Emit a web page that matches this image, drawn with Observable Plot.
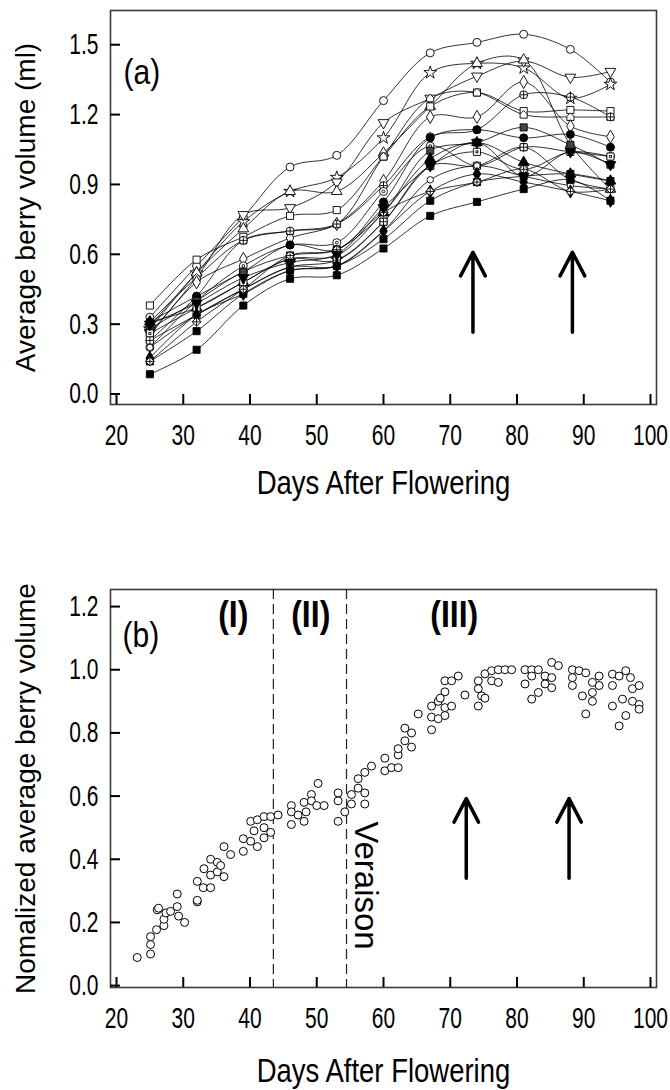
<!DOCTYPE html>
<html><head><meta charset="utf-8">
<script src="https://cdn.jsdelivr.net/npm/d3@7"></script>
<script src="https://cdn.jsdelivr.net/npm/@observablehq/plot@0.6"></script>
<style>
body{margin:0;background:#fff;}
#chart svg{display:block;}
</style></head><body><div id="chart"></div>
<script>
// ---------- Panel (a) data ----------
const days = [25, 32, 39, 46, 53, 60, 67, 74, 81, 88, 94];
const s01 = [0.33, 0.55, 0.76, 0.975, 1.025, 1.26, 1.465, 1.51, 1.545, 1.48, 1.34];
const s02 = [0.28, 0.52, 0.74, 0.87, 0.93, 1.10, 1.38, 1.42, 1.40, 1.27, 1.33];
const s03 = [0.26, 0.50, 0.77, 0.80, 0.91, 1.165, 1.27, 1.365, 1.43, 1.36, 1.385];
const s04 = [0.29, 0.52, 0.71, 0.87, 0.87, 1.035, 1.235, 1.42, 1.435, 1.07, 0.88];
const s05 = [0.38, 0.577, 0.675, 0.765, 0.79, 1.02, 1.235, 1.295, 1.215, 1.22, 1.215];
const s06 = [0.31, 0.50, 0.66, 0.70, 0.73, 1.02, 1.27, 1.295, 1.20, 1.19, 1.19];
const s07 = [0.25, 0.48, 0.58, 0.67, 0.73, 0.915, 1.19, 1.19, 1.34, 1.15, 1.105];
const s08 = [0.23, 0.42, 0.66, 0.70, 0.73, 0.895, 1.105, 1.135, 1.285, 1.275, 1.19];
const s09 = [0.20, 0.40, 0.55, 0.64, 0.65, 0.87, 1.065, 0.98, 1.06, 1.04, 1.02];
const s10 = [0.31, 0.42, 0.525, 0.64, 0.62, 0.825, 1.10, 1.135, 1.10, 1.115, 1.06];
const s11 = [0.28, 0.40, 0.525, 0.595, 0.62, 0.78, 1.045, 1.08, 1.145, 1.07, 0.985];
const s12 = [0.31, 0.37, 0.48, 0.58, 0.595, 0.78, 1.01, 1.08, 0.995, 0.945, 0.915];
const s13 = [0.26, 0.37, 0.48, 0.58, 0.575, 0.74, 0.98, 1.04, 0.965, 1.04, 1.02];
const s14 = [0.23, 0.34, 0.45, 0.545, 0.575, 0.74, 0.98, 0.98, 1.06, 0.92, 0.88];
const s15 = [0.20, 0.34, 0.45, 0.545, 0.55, 0.70, 0.92, 0.98, 0.935, 0.895, 0.88];
const s16 = [0.155, 0.34, 0.43, 0.53, 0.55, 0.70, 0.87, 0.945, 0.91, 0.87, 0.83];
const s17 = [0.14, 0.27, 0.43, 0.53, 0.55, 0.665, 0.83, 0.91, 0.935, 0.945, 0.915];
const s18 = [0.085, 0.19, 0.38, 0.495, 0.51, 0.625, 0.765, 0.825, 0.88, 0.92, 0.83];
const s19 = [0.14, 0.31, 0.45, 0.595, 0.62, 0.78, 0.87, 0.91, 0.965, 0.87, 0.88];
const s20 = [0.30, 0.39, 0.50, 0.565, 0.60, 0.80, 0.98, 1.08, 0.935, 1.04, 0.985];
const seriesA = [s01,s02,s03,s04,s05,s06,s07,s08,s09,s10,s11,s12,s13,s14,s15,s16,s17,s18,s19,s20];

// arrows (annotation) panel (a)
const arrowDaysA = [73.4, 88.3];
const arrowBaseA = 0.265, arrowTipA = 0.609;

// ---------- Panel (b) data ----------
const bDays = [23.1,25.1,25.1,25.1,26.0,26.1,26.3,27.1,27.1,27.4,28.1,29.1,29.1,29.3,30.2,
  32.1,32.1,32.1,33.0,33.1,34.1,34.1,34.1,35.1,35.1,35.6,36.1,36.1,37.1,39.0,39.0,40.1,40.1,40.6,
  41.1,41.1,42.1,42.1,42.1,43.1,43.1,44.2,46.2,46.2,46.2,47.2,48.1,48.1,48.4,49.2,50.2,49.2,50.0,51.1,
  53.2,53.2,53.2,54.2,55.2,55.2,56.2,56.2,57.2,57.2,57.2,58.2,60.2,60.2,61.2,62.2,62.2,62.2,
  63.2,63.2,64.2,64.2,65.2,67.2,67.2,67.2,68.2,68.2,69.2,69.2,69.2,70.2,69.2,70.2,71.2,68.5,72.2,
  74.2,74.2,74.7,75.2,76.2,76.2,77.2,74.2,75.2,77.2,78.2,79.2,81.2,82.2,83.2,81.2,82.2,82.2,83.2,
  84.2,84.2,85.2,85.2,86.2,85.2,88.3,89.3,90.3,88.3,88.3,89.8,91.3,91.3,92.3,92.3,90.3,91.3,
  94.3,94.3,95.3,96.3,97.0,97.3,98.3,94.3,95.8,97.3,98.3,98.3,96.3,95.3];
const bVals = [0.089,0.10,0.13,0.155,0.177,0.24,0.245,0.19,0.21,0.23,0.235,0.29,0.25,0.22,0.20,
  0.265,0.27,0.33,0.31,0.37,0.40,0.35,0.31,0.39,0.36,0.38,0.44,0.345,0.415,0.465,0.425,0.52,0.457,0.49,
  0.525,0.44,0.535,0.50,0.468,0.535,0.485,0.54,0.57,0.55,0.51,0.54,0.58,0.52,0.55,0.605,0.64,0.585,0.57,0.57,
  0.61,0.585,0.52,0.55,0.605,0.575,0.625,0.655,0.61,0.575,0.675,0.695,0.72,0.68,0.69,0.69,0.73,0.75,
  0.815,0.775,0.80,0.755,0.86,0.885,0.85,0.81,0.90,0.845,0.93,0.88,0.855,0.885,0.965,0.965,0.98,0.91,0.92,
  0.965,0.94,0.917,0.987,0.997,0.965,0.96,0.885,0.91,1.0,1.0,1.0,1.0,1.0,1.0,0.955,0.98,0.907,0.928,
  0.98,0.955,1.023,0.943,1.013,0.975,1.0,0.997,0.99,0.975,0.95,0.917,0.928,0.90,0.98,0.95,0.86,0.96,
  0.986,0.95,0.98,0.997,0.975,0.94,0.95,0.885,0.907,0.90,0.89,0.875,0.855,0.822];

const phaseLabels = ["(I)", "(II)", "(III)"];
const phaseDays = [37.5, 49.1, 70.6];
const phaseBounds = [43.5, 54.46];
const arrowDaysB = [72.4, 87.8];
const arrowBaseB = 0.34, arrowTipB = 0.592;

// ---------- axes / labels ----------
const xTicks = [20, 30, 40, 50, 60, 70, 80, 90, 100];
const yTicksA = [0.0, 0.3, 0.6, 0.9, 1.2, 1.5];
const yTicksB = [0.0, 0.2, 0.4, 0.6, 0.8, 1.0, 1.2];
const xTitle = "Days After Flowering";
const yTitleA = "Average berry volume (ml)";
const yTitleB = "Nomalized average berry volume";

// ---------- styling ----------
const REG = '"Liberation Sans",Arial,sans-serif';
const S3 = Math.sqrt(3);
const invTri = {draw(c, size){ const y = -Math.sqrt(size/(S3*3)); c.moveTo(0,-y*2); c.lineTo(-S3*y, y); c.lineTo(S3*y, y); c.closePath(); }};
const house = {draw(c, size){ const r = Math.sqrt(size)/2; c.moveTo(-r, r); c.lineTo(r, r); c.lineTo(r, -r*0.15); c.lineTo(0, -r*1.15); c.lineTo(-r, -r*0.15); c.closePath(); }};
const crossCircle = {draw(c, size){ const r = Math.sqrt(size/Math.PI); c.moveTo(r,0); c.arc(0,0,r,0,2*Math.PI); c.moveTo(-r,0); c.lineTo(r,0); c.moveTo(0,-r); c.lineTo(0,r); }};
const dotCircle = {draw(c, size){ const r = Math.sqrt(size/Math.PI); c.moveTo(r,0); c.arc(0,0,r,0,2*Math.PI); c.moveTo(r*0.35,0); c.arc(0,0,r*0.35,0,2*Math.PI); }};
const crossSquare = {draw(c, size){ const r = Math.sqrt(size)/2; c.rect(-r,-r,2*r,2*r); c.moveTo(-r,0); c.lineTo(r,0); c.moveTo(0,-r); c.lineTo(0,r); }};
const dotSquare = {draw(c, size){ const r = Math.sqrt(size)/2; c.rect(-r,-r,2*r,2*r); c.rect(-r*0.3,-r*0.3,r*0.6,r*0.6); }};
const crossDiamond = {draw(c, size){ const r = Math.sqrt(size)/1.6; c.moveTo(0,-r); c.lineTo(r,0); c.lineTo(0,r); c.lineTo(-r,0); c.closePath(); c.moveTo(-r,0); c.lineTo(r,0); c.moveTo(0,-r); c.lineTo(0,r); }};
const markerStyles = [
  {symbol:"circle", fill:"white"}, {symbol:"star", fill:"white"}, {symbol:invTri, fill:"white"},
  {symbol:"triangle", fill:"white"}, {symbol:"square", fill:"white"}, {symbol:house, fill:"white"},
  {symbol:"diamond", fill:"white"}, {symbol:crossCircle, fill:"white"}, {symbol:dotCircle, fill:"white"},
  {symbol:"circle", fill:"black"}, {symbol:"square", fill:"#444"}, {symbol:"triangle", fill:"black"},
  {symbol:dotSquare, fill:"white"}, {symbol:crossSquare, fill:"white"}, {symbol:"circle", fill:"white"},
  {symbol:"diamond", fill:"black"}, {symbol:"square", fill:"black"}, {symbol:"square", fill:"black"},
  {symbol:crossDiamond, fill:"white"}, {symbol:invTri, fill:"black"}
];

const rowsA = seriesA.flatMap((s, k) => s.map((v, i) => ({id: k, day: days[i], v})));
const ptsB = bDays.map((d, i) => ({day: d, v: bVals[i]}));

const xDomain = [19.1, 100.9];

function frameAxes(yTicks, fmt) {
  return [
    Plot.frame({stroke: "#3a3a3a", strokeWidth: 1.6}),
    Plot.axisX(xTicks, {anchor: "bottom", tickSize: 0, tickPadding: 20, label: null}),
    Plot.axisX(xTicks, {anchor: "bottom", tickSize: 10, dy: -10, fill: "none", label: null, strokeWidth: 2}),
    Plot.axisY(yTicks, {anchor: "left", tickSize: 0, tickPadding: 12, tickFormat: fmt, label: null}),
    Plot.axisY(yTicks, {anchor: "left", tickSize: 10, dx: 10, fill: "none", label: null, strokeWidth: 2})
  ];
}
function titles(yTitle, xdy) {
  return [
    Plot.text([xTitle], {text: d => d, frameAnchor: "bottom", dy: xdy, lineAnchor: "middle", textAnchor: "middle", fontFamily: REG, fontSize: 27.5}),
    Plot.text([yTitle], {text: d => d, frameAnchor: "left", dx: -84, rotate: -90, textAnchor: "middle", lineAnchor: "middle", fontFamily: REG, fontSize: 28})
  ];
}

const fmt1 = d3.format(".1f");
const common = {
  width: 670, height: 545, marginLeft: 110, marginRight: 14,
  style: {fontFamily: REG, fontSize: "21px", background: "white", color: "black", overflow: "visible"}
};

// Panel (a)
const plotA = Plot.plot({
  ...common,
  marginTop: 10, marginBottom: 141,
  x: {domain: xDomain},
  y: {domain: [-0.045, 1.647]},
  marks: [
    ...frameAxes(yTicksA, fmt1),
    Plot.line(rowsA, {x: "day", y: "v", z: "id", curve: "catmull-rom", stroke: "black", strokeWidth: 0.8}),
    ...seriesA.map((s, k) => Plot.dot(rowsA.filter(r => r.id === k), {
      x: "day", y: "v", r: k === 14 ? 3.2 : 4, symbol: markerStyles[k].symbol,
      fill: markerStyles[k].fill, stroke: "black", strokeWidth: 0.9
    })),
    Plot.arrow(arrowDaysA, {x1: d => d, x2: d => d, y1: () => arrowBaseA, y2: () => arrowTipA,
      stroke: "black", strokeWidth: 3.5, headLength: 14, headAngle: 55}),
    Plot.text(["(a)"], {text: d => d, frameAnchor: "top-left", dx: 13, dy: 73, lineAnchor: "bottom", textAnchor: "start", fontFamily: REG, fontSize: 30}),
    ...titles(yTitleA, 79)
  ]
});

// Panel (b)
const plotB = Plot.plot({
  ...common,
  marginTop: 44, marginBottom: 103,
  x: {domain: xDomain},
  y: {domain: [-0.006, 1.254]},
  marks: [
    ...frameAxes(yTicksB, fmt1),
    Plot.ruleX(phaseBounds, {x: d => d, stroke: "#222", strokeWidth: 1.2, strokeDasharray: "10,5"}),
    Plot.dot(ptsB, {x: "day", y: "v", r: 4, fill: "white", stroke: "black", strokeWidth: 1}),
    Plot.text(phaseLabels, {text: d => d, x: (d, i) => phaseDays[i], y: () => 1.135, lineAnchor: "bottom", fontFamily: REG, fontWeight: "bold", fontSize: 32}),
    Plot.text(["Veraison"], {text: d => d, x: () => 57.3, y: () => 0.317, rotate: 90, fontFamily: REG, fontSize: 33}),
    Plot.arrow(arrowDaysB, {x1: d => d, x2: d => d, y1: () => arrowBaseB, y2: () => arrowTipB,
      stroke: "black", strokeWidth: 3.5, headLength: 14, headAngle: 55}),
    Plot.text(["(b)"], {text: d => d, frameAnchor: "top-left", dx: 12, dy: 57, lineAnchor: "bottom", textAnchor: "start", fontFamily: REG, fontSize: 30}),
    ...titles(yTitleB, 84.5)
  ]
});

// the reference's lettering is vertically stretched: emulate by scaling upright texts in y
function stretchTexts(svg) {
  svg.querySelectorAll("text").forEach(t => {
    const tr = t.getAttribute("transform");
    if (!tr || tr.includes("rotate")) return;
    const g = t.closest("g[aria-label]");
    const lab = g ? g.getAttribute("aria-label") : "";
    const k = /tick label/.test(lab) ? 1.4 : 1.18;
    t.setAttribute("transform", tr + ` scale(1,${k})`);
  });
}
stretchTexts(plotA);
stretchTexts(plotB);

const chart = document.getElementById("chart");
chart.appendChild(plotA);
chart.appendChild(plotB);
</script>
</body></html>
